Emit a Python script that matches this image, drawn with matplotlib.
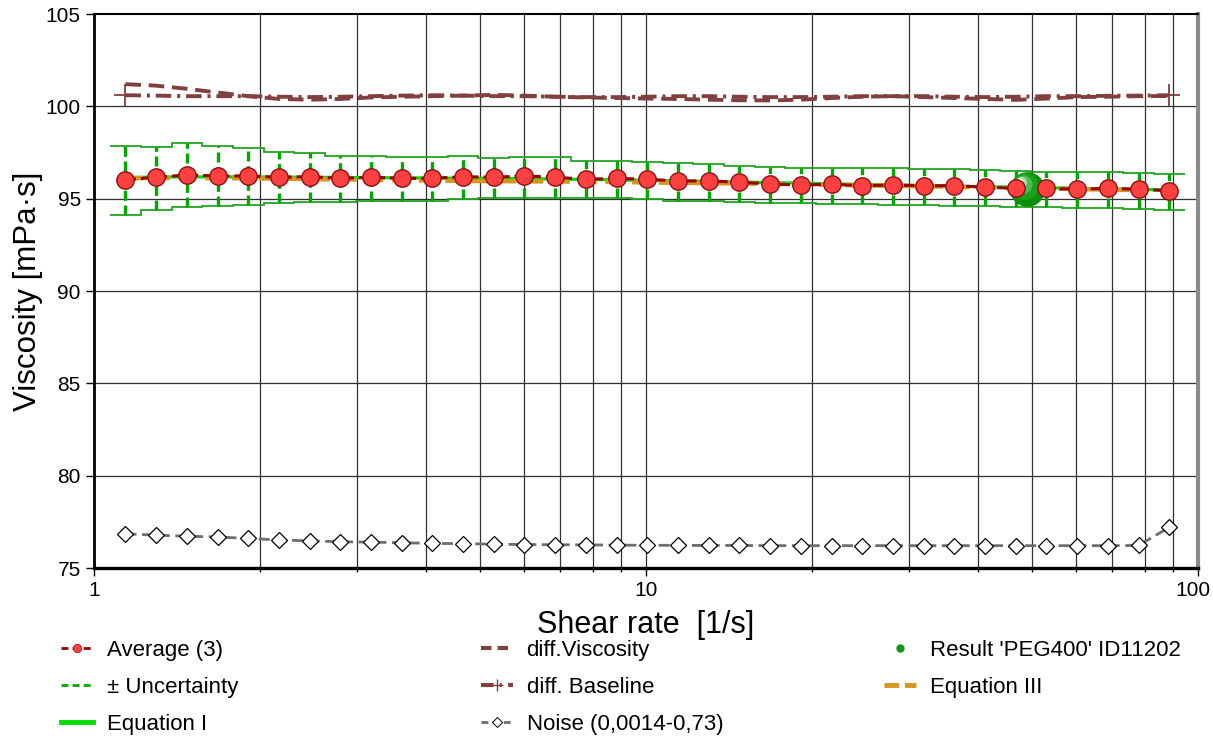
import numpy as np
import matplotlib
matplotlib.use("Agg")
import matplotlib.pyplot as plt
import matplotlib.transforms as mtransforms
from matplotlib.lines import Line2D
from matplotlib.ticker import FixedLocator, NullFormatter

plt.rcParams["font.family"] = ["Liberation Sans", "DejaVu Sans"]

# shear rate grid [1/s]
shear = [1.140, 1.296, 1.473, 1.674, 1.903, 2.163, 2.458, 2.794, 3.176, 3.609,
         4.103, 4.663, 5.300, 6.024, 6.848, 7.783, 8.847, 10.06, 11.43, 12.99,
         14.77, 16.78, 19.08, 21.68, 24.64, 28.01, 31.84, 36.19, 41.13, 46.75,
         53.14, 60.40, 68.65, 78.03, 88.69]

# average of 3 runs [mPa s]
visc_avg = [96.01, 96.16, 96.28, 96.23, 96.23, 96.16, 96.19, 96.10, 96.16, 96.10,
            96.10, 96.19, 96.16, 96.23, 96.16, 96.05, 96.10, 96.05, 95.96, 95.96,
            95.89, 95.80, 95.74, 95.78, 95.70, 95.74, 95.70, 95.70, 95.62, 95.56,
            95.56, 95.51, 95.56, 95.51, 95.43]

unc_high = [97.85, 97.81, 98.00, 97.85, 97.76, 97.54, 97.46, 97.31, 97.31, 97.24,
            97.24, 97.31, 97.19, 97.24, 97.24, 97.04, 97.05, 97.00, 96.91, 96.86,
            96.79, 96.70, 96.68, 96.68, 96.65, 96.65, 96.61, 96.61, 96.55, 96.50,
            96.46, 96.46, 96.46, 96.38, 96.34]

unc_low = [94.12, 94.39, 94.53, 94.60, 94.66, 94.78, 94.84, 94.81, 94.89, 94.89,
           94.88, 94.98, 95.02, 95.02, 95.02, 95.02, 95.02, 94.97, 94.89, 94.88,
           94.84, 94.75, 94.75, 94.70, 94.70, 94.66, 94.66, 94.60, 94.60, 94.57,
           94.57, 94.51, 94.48, 94.43, 94.39]

eq1 = [96.15, 96.17, 96.18, 96.18, 96.18, 96.17, 96.16, 96.15, 96.14, 96.13,
       96.12, 96.11, 96.10, 96.08, 96.06, 96.04, 96.02, 95.99, 95.96, 95.93,
       95.90, 95.87, 95.84, 95.80, 95.77, 95.74, 95.71, 95.68, 95.65, 95.62,
       95.59, 95.56, 95.53, 95.50, 95.47]

eq3 = [96.10, 96.12, 96.12, 96.11, 96.10, 96.08, 96.06, 96.04, 96.02, 96.00,
       95.98, 95.96, 95.95, 95.94, 95.93, 95.92, 95.90, 95.88, 95.86, 95.84,
       95.82, 95.80, 95.77, 95.75, 95.72, 95.70, 95.67, 95.64, 95.61, 95.58,
       95.55, 95.52, 95.49, 95.46, 95.44]

diff_visc = [101.20, 101.12, 100.95, 100.75, 100.55, 100.40, 100.36, 100.40, 100.48, 100.52,
             100.55, 100.58, 100.62, 100.58, 100.52, 100.48, 100.45, 100.42, 100.40, 100.36,
             100.33, 100.32, 100.36, 100.45, 100.52, 100.55, 100.50, 100.45, 100.40, 100.35,
             100.42, 100.50, 100.52, 100.55, 100.56]

diff_base = [100.60, 100.58, 100.55, 100.55, 100.55, 100.52, 100.50, 100.52, 100.55, 100.58,
             100.60, 100.58, 100.55, 100.55, 100.52, 100.50, 100.50, 100.52, 100.55, 100.55,
             100.52, 100.50, 100.50, 100.52, 100.55, 100.55, 100.55, 100.52, 100.50, 100.52,
             100.55, 100.55, 100.57, 100.58, 100.60]

noise = [76.85, 76.78, 76.72, 76.68, 76.60, 76.52, 76.47, 76.42, 76.40, 76.37,
         76.33, 76.32, 76.29, 76.27, 76.26, 76.25, 76.24, 76.23, 76.23, 76.22,
         76.22, 76.21, 76.21, 76.21, 76.21, 76.21, 76.21, 76.21, 76.21, 76.21,
         76.21, 76.21, 76.21, 76.22, 77.20]

result_x = 49.0
result_y = 95.55

y_ticks = [75, 80, 85, 90, 95, 100, 105]
x_ticks = [1, 10, 100]
x_grid = [2, 3, 4, 5, 6, 7, 8, 9, 10, 20, 30, 40, 50, 60, 70, 80, 90]

RED_LINE = "#9b0000"
RED_FILL = "#ff4040"
GREEN_BAR = "#00a800"
GREEN_STEP = "#22a522"
GREEN_EQ = "#00dd00"
ORANGE = "#d4961e"
BROWN = "#804040"
GREY = "#6e6e6e"

fig = plt.figure(figsize=(12.13, 7.36), dpi=100)
ax = fig.add_axes([94 / 1213, 1 - 568 / 736, (1198 - 94) / 1213, (568 - 14) / 736])

ax.set_xscale("log")
ax.set_xlim(1, 100)
ax.set_ylim(75, 105)

# grid
for g in x_grid:
    ax.axvline(g, color="#303030", lw=0.9, zorder=1)
for yv in y_ticks[1:-1]:
    ax.axhline(yv, color="#303030", lw=0.9, zorder=1)

# uncertainty band as stairs + dashed bars
sh = np.array(shear)
edges = np.concatenate([[sh[0] ** 1.5 / sh[1] ** 0.5],
                        np.sqrt(sh[:-1] * sh[1:]),
                        [sh[-1] ** 1.5 / sh[-2] ** 0.5]])
ax.stairs(unc_high, edges, baseline=None, color=GREEN_STEP, lw=1.3, zorder=2)
ax.stairs(unc_low, edges, baseline=None, color=GREEN_STEP, lw=1.3, zorder=2)
ax.vlines(shear, unc_low, unc_high, colors=GREEN_BAR, lw=2.4,
          linestyles=[(0, (3, 1.4))], zorder=2.5)

# model equations
ax.plot(shear, eq1, color=GREEN_EQ, lw=2.3, zorder=3)
ax.plot(shear[:-1], eq3[:-1], color=ORANGE, lw=3.2, dashes=(4, 2), zorder=3.2)

# average curve
ax.plot(shear, visc_avg, color=RED_LINE, lw=2.2, dashes=(3.5, 1.6), zorder=4)

# result sphere
layers = [(25, "#08900a", 0, 0), (19, "#18a018", -1.5, 1.5), (13, "#52b852", -3, 3.2),
          (8, "#a8dca8", -4.2, 4.4), (4, "#ffffff", -5, 5.2)]
for ms, col, dx, dy in layers:
    tr = mtransforms.offset_copy(ax.transData, fig=fig, x=dx, y=dy, units="points")
    ax.plot([result_x], [result_y], "o", ms=ms, color=col, mec="none",
            transform=tr, zorder=5)

ax.plot(shear, visc_avg, "o", ms=12.5, mfc=RED_FILL, mec="#8a1010", mew=1.0,
        ls="none", zorder=6)

# difference curves
ax.plot(shear, diff_visc, color=BROWN, lw=2.8, dashes=(4, 2), zorder=3)
ax.plot(shear, diff_base, color=BROWN, lw=2.8, dashes=(4, 1.5, 0.8, 1.5),
        marker="+", ms=16, mew=1.3, markevery=[0, len(shear) - 1], zorder=3)

# noise
ax.plot(shear, noise, color=GREY, lw=2, dashes=(4, 2), marker="D", ms=8.5,
        mfc="white", mec="black", mew=0.9, zorder=4)

# axes styling
ax.set_yticks(y_ticks)
ax.xaxis.set_major_locator(FixedLocator(x_ticks))
ax.xaxis.set_minor_locator(FixedLocator(x_grid))
ax.xaxis.set_minor_formatter(NullFormatter())
ax.set_xticklabels(["1", "10", "100"])
ax.tick_params(axis="both", which="major", labelsize=15, direction="out",
               length=6, width=1, colors="black")
ax.tick_params(axis="x", which="minor", direction="out", length=3, width=1)

# keep the "100" label inside the canvas
last_lbl = ax.get_xticklabels()[-1]
last_lbl.set_transform(last_lbl.get_transform()
                       + mtransforms.ScaledTranslation(-4 / 72, 0, fig.dpi_scale_trans))

ax.spines["left"].set_linewidth(2)
ax.spines["bottom"].set_linewidth(2.4)
ax.spines["top"].set_linewidth(1.5)
ax.spines["right"].set_linewidth(3)
ax.spines["right"].set_color("#8a8a8a")

ax.set_xlabel("Shear rate  [1/s]", fontsize=22, labelpad=7)
ax.set_ylabel("Viscosity [mPa·s]", fontsize=22.5, labelpad=2)

# legend in three columns
col1 = [
    Line2D([], [], color=RED_LINE, lw=2, dashes=(2.5, 1.5), marker="o", ms=6,
           mfc=RED_FILL, mec="#8a1010", mew=0.5),
    Line2D([], [], color=GREEN_BAR, lw=2, dashes=(2.5, 1.5)),
    Line2D([], [], color=GREEN_EQ, lw=3.5),
]
col2 = [
    Line2D([], [], color=BROWN, lw=3, dashes=(2.5, 1.5)),
    Line2D([], [], color=BROWN, lw=3, dashes=(3, 1.5, 0.5, 1.5), marker="+",
           ms=9, mew=1),
    Line2D([], [], color=GREY, lw=2, dashes=(2.5, 1.5), marker="D", ms=5,
           mfc="white", mec="black", mew=0.7),
]
col3 = [
    Line2D([], [], color="#12961a", ls="none", marker="o", ms=5),
    Line2D([], [], color=ORANGE, lw=3.5, dashes=(3, 1.2)),
]
lab1 = ["Average (3)", "± Uncertainty", "Equation I"]
lab2 = ["diff.Viscosity", "diff. Baseline", "Noise (0,0014-0,73)"]
lab3 = ["Result 'PEG400' ID11202", "Equation III"]

for hs, ls, x0 in [(col1, lab1, 61), (col2, lab2, 481), (col3, lab3, 884)]:
    fig.legend(hs, ls, loc="upper left", bbox_to_anchor=(x0 / 1213, 1 - 640 / 736),
               frameon=False, fontsize=16, handlelength=1.45, handletextpad=0.6,
               labelspacing=0.72, borderpad=0, borderaxespad=0)

fig.savefig("out.png", dpi=100)
